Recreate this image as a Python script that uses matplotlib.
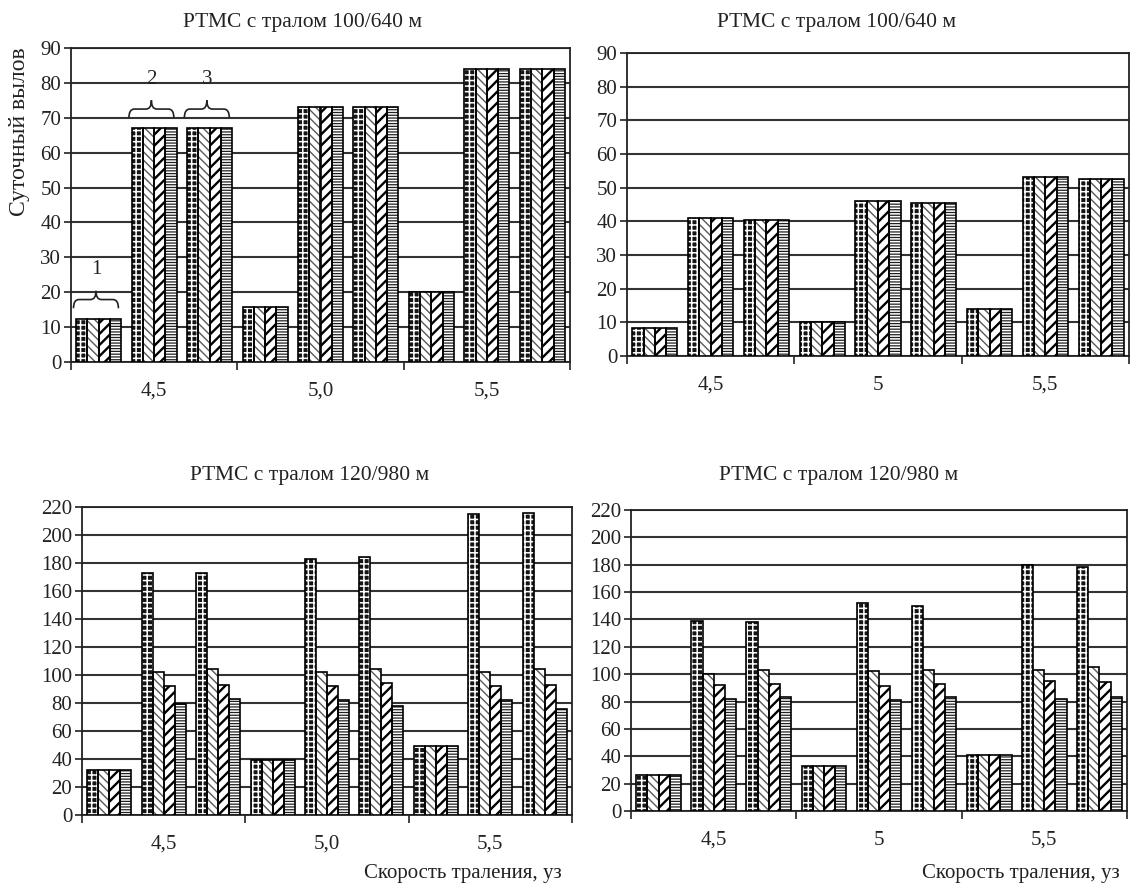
import numpy as np
import matplotlib
matplotlib.use('Agg')
import matplotlib.pyplot as plt
import matplotlib.transforms as mtransforms
from matplotlib.path import Path
from matplotlib.patches import PathPatch

plt.rcParams['font.family'] = ['Liberation Serif', 'DejaVu Serif']

# ---------------- data ----------------
titles = ['РТМС с тралом 100/640 м', 'РТМС с тралом 100/640 м',
          'РТМС с тралом 120/980 м', 'РТМС с тралом 120/980 м']
speeds_left = ['4,5', '5,0', '5,5']
speeds_right = ['4,5', '5', '5,5']
variants = ['1', '2', '3']          # three variants inside each speed
ylabel = 'Суточный вылов'
xlabel = 'Скорость траления, уз'

# rows: (speed, variant) in order 4.5-1, 4.5-2, 4.5-3, 5.0-1, ... ; columns: 4 series
top_left = [
    [12.4, 12.4, 12.4, 12.4], [67.0, 67.0, 67.0, 67.0], [67.0, 67.0, 67.0, 67.0],
    [15.8, 15.8, 15.8, 15.8], [73.0, 73.0, 73.0, 73.0], [73.0, 73.0, 73.0, 73.0],
    [20.2, 20.2, 20.2, 20.2], [84.0, 84.0, 84.0, 84.0], [84.0, 84.0, 84.0, 84.0],
]
top_right = [
    [8.2, 8.2, 8.2, 8.2], [41.0, 41.0, 41.0, 41.0], [40.5, 40.5, 40.5, 40.5],
    [10.0, 10.0, 10.0, 10.0], [46.0, 46.0, 46.0, 46.0], [45.3, 45.3, 45.3, 45.3],
    [14.0, 14.0, 14.0, 14.0], [53.3, 53.3, 53.3, 53.3], [52.7, 52.7, 52.7, 52.7],
]
bottom_left = [
    [32, 32, 32, 32], [173, 102, 92, 79], [173, 104, 93, 83],
    [39, 39, 39, 39], [183, 102, 92, 82], [184, 104, 94, 78],
    [49, 49, 49, 49], [215, 102, 92, 82], [216, 104, 93, 76],
]
bottom_right = [
    [26, 26, 26, 26], [139, 100, 92, 82], [138, 103, 93, 83],
    [33, 33, 33, 33], [152, 102, 91, 81], [150, 103, 93, 83],
    [41, 41, 41, 41], [180, 103, 95, 82], [178, 105, 94, 83],
]

# ---------------- styling ----------------
DPI = 100
fig = plt.figure(figsize=(1133 / DPI, 888 / DPI), dpi=DPI)
W, H = 1133.0, 888.0

def rect(x0, y0, x1, y1):
    return [x0 / W, 1 - y1 / H, (x1 - x0) / W, (y1 - y0) / H]

styles = [
    dict(fc='#151515', hc='white', hatch='+++', hlw=1.1),
    dict(fc='white', hc='#5a5a5a', hatch='\\\\\\\\', hlw=1.0),
    dict(fc='white', hc='black', hatch='///', hlw=1.7),
    dict(fc='white', hc='#202020', hatch='------', hlw=0.9),
]

def brace(ax, x0, x1, y, h, lw=1.2):
    xm = 0.5 * (x0 + x1)
    dx = 0.12 * (x1 - x0)
    verts = [(x0, y - h), (x0, y), (x0 + dx, y),
             (xm - dx, y), (xm, y), (xm, y + h),
             (xm, y), (xm + dx, y),
             (x1 - dx, y), (x1, y), (x1, y - h)]
    codes = [Path.MOVETO, Path.CURVE3, Path.CURVE3,
             Path.LINETO, Path.CURVE3, Path.CURVE3,
             Path.CURVE3, Path.CURVE3,
             Path.LINETO, Path.CURVE3, Path.CURVE3]
    ax.add_patch(PathPatch(Path(verts, codes), fill=False, lw=lw,
                           edgecolor='#222222', zorder=6, clip_on=False))

def panel(box, vals, ymax, ystep, cat_labels, title, title_xy, show_xlabel,
          xlabel_xy=None):
    ax = fig.add_axes(rect(*box))
    vals = np.asarray(vals, dtype=float)
    n = vals.shape[0]
    slots = np.arange(n)
    w = 0.81 / 4
    for k in range(4):
        st = styles[k]
        x = slots + 0.5 + (k - 1.5) * w
        with plt.rc_context({'hatch.linewidth': st['hlw']}):
            ax.bar(x, vals[:, k], width=w, facecolor=st['fc'],
                   edgecolor=st['hc'], hatch=st['hatch'], linewidth=0, zorder=3)
        ax.bar(x, vals[:, k], width=w, facecolor='none', edgecolor='black',
               linewidth=1.2, zorder=4)
    ax.set_xlim(0, n)
    ax.set_ylim(0, ymax)
    ax.set_yticks(np.arange(0, ymax + 1, ystep))
    ax.set_xticks(np.arange(0, n + 1, 3))
    ax.set_xticklabels([])
    ax.tick_params(axis='x', direction='out', length=6, width=1.2, color='#222222')
    ax.tick_params(axis='y', direction='out', length=5, width=1.2, color='#222222',
                   labelsize=15, pad=2, labelcolor='#222222')
    ax.yaxis.grid(True, color='#333333', lw=1.5)
    ax.set_axisbelow(True)
    for s in ax.spines.values():
        s.set_color('#222222')
        s.set_linewidth(1.3)
    tr = mtransforms.blended_transform_factory(ax.transData, ax.transAxes)
    for i, lab in enumerate(cat_labels):
        ax.annotate(lab, xy=(3 * i + 1.5, 0), xycoords=tr, xytext=(0, -21),
                    textcoords='offset points', ha='center', va='center',
                    fontsize=15, color='#222222')
    fig.text(title_xy[0] / W, 1 - title_xy[1] / H, title, ha='center',
             va='center', fontsize=15.5, color='#222222')
    if show_xlabel:
        fig.text(xlabel_xy[0] / W, 1 - xlabel_xy[1] / H, xlabel, ha='right',
                 va='center', fontsize=15, color='#222222')
    return ax, w

ax1, w = panel((71, 48, 570, 362), top_left, 90, 10, speeds_left, titles[0],
               (303, 22), False)
ax2, _ = panel((627, 53, 1129, 356), top_right, 90, 10, speeds_right, titles[1],
               (837, 22), False)
ax3, _ = panel((82, 507, 572, 815), bottom_left, 220, 20, speeds_left, titles[2],
               (310, 475), True, (562, 873))
ax4, _ = panel((631, 510, 1127, 811), bottom_right, 220, 20, speeds_right, titles[3],
               (839, 475), True, (1120, 873))

# braces with variant numbers (top-left panel)
tl = np.asarray(top_left)
for i, lab in enumerate(variants):
    x0 = i + 0.5 - 2 * w - 0.05
    x1 = i + 0.5 + 2 * w - 0.05
    top = tl[i].max()
    yb = top + 5.5
    brace(ax1, x0, x1, yb, 2.5)
    ax1.text(0.5 * (x0 + x1), yb + 8.5, lab, ha='center', va='center',
             fontsize=15, color='#222222', zorder=7)

fig.text(20 / W, 1 - 132 / H, ylabel, rotation=90, ha='center', va='center',
         fontsize=17, color='#222222')

fig.savefig('out.png', dpi=DPI)
